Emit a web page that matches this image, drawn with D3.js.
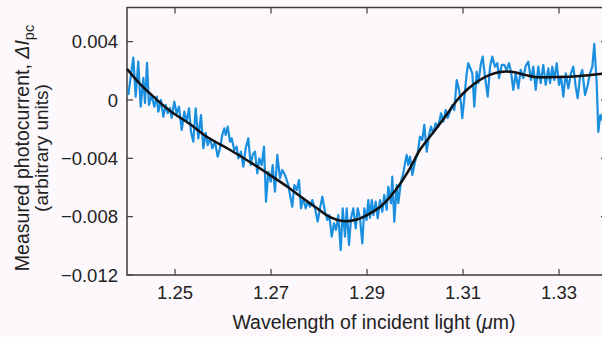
<!DOCTYPE html>
<html>
<head>
<meta charset="utf-8">
<script src="https://cdn.jsdelivr.net/npm/d3@7"></script>
<style>
  html, body { margin: 0; padding: 0; background: #fcf8fc; overflow: hidden; }
  svg { display: block; }
  text { font-family: "Liberation Sans", Arial, Helvetica, sans-serif; fill: #222; }
</style>
</head>
<body>
<div id="chart"></div>
<script>
// Measured photocurrent (noisy trace)
const measuredWl = [
  1.24027, 1.24131, 1.24181, 1.24235, 1.24285, 1.24340, 1.24375, 1.24417, 1.24458, 1.24515,
  1.24569, 1.24619, 1.24652, 1.24708, 1.24756, 1.24806, 1.24848, 1.24896, 1.24931, 1.24985,
  1.25035, 1.25083, 1.25140, 1.25194, 1.25244, 1.25292, 1.25333, 1.25381, 1.25431, 1.25485,
  1.25542, 1.25590, 1.25640, 1.25681, 1.25729, 1.25777, 1.25833, 1.25890, 1.25938, 1.25985,
  1.26027, 1.26056, 1.26098, 1.26146, 1.26181, 1.26235, 1.26285, 1.26319, 1.26375, 1.26423,
  1.26473, 1.26527, 1.26577, 1.26619, 1.26667, 1.26715, 1.26756, 1.26806, 1.26854, 1.26896,
  1.26944, 1.26994, 1.27035, 1.27083, 1.27131, 1.27188, 1.27235, 1.27292, 1.27360, 1.27396,
  1.27444, 1.27485, 1.27535, 1.27583, 1.27625, 1.27673, 1.27723, 1.27765, 1.27813, 1.27860,
  1.27917, 1.27973, 1.28021, 1.28069, 1.28125, 1.28173, 1.28215, 1.28265, 1.28313, 1.28354,
  1.28402, 1.28452, 1.28494, 1.28542, 1.28577, 1.28625, 1.28667, 1.28715, 1.28765, 1.28806,
  1.28854, 1.28902, 1.28944, 1.28990, 1.29027, 1.29063, 1.29100, 1.29135, 1.29181, 1.29223,
  1.29271, 1.29319, 1.29360, 1.29410, 1.29444, 1.29500, 1.29527, 1.29569, 1.29619, 1.29652,
  1.29708, 1.29756, 1.29792, 1.29827, 1.29860, 1.29896, 1.29944, 1.30000, 1.30056, 1.30104,
  1.30152, 1.30194, 1.30244, 1.30292, 1.30333, 1.30381, 1.30431, 1.30485, 1.30542, 1.30590,
  1.30640, 1.30681, 1.30729, 1.30777, 1.30819, 1.30869, 1.30917, 1.30958, 1.30985, 1.31027,
  1.31077, 1.31110, 1.31167, 1.31194, 1.31235, 1.31285, 1.31319, 1.31375, 1.31410, 1.31458,
  1.31515, 1.31563, 1.31610, 1.31667, 1.31715, 1.31750, 1.31806, 1.31860, 1.31910, 1.31958,
  1.32000, 1.32048, 1.32098, 1.32152, 1.32202, 1.32256, 1.32306, 1.32360, 1.32417, 1.32465,
  1.32515, 1.32569, 1.32619, 1.32673, 1.32723, 1.32777, 1.32813, 1.32860, 1.32902, 1.32952,
  1.33000, 1.33042, 1.33090, 1.33140, 1.33194, 1.33250, 1.33298, 1.33348, 1.33390, 1.33438,
  1.33485, 1.33542, 1.33598, 1.33646, 1.33694, 1.33735, 1.33785, 1.33819, 1.33860, 1.33896,
  1.33938
];
const measuredVal = [
  0.00034, 0.00290, 0.00023, 0.00263, -0.00046, 0.00151, -0.00021, 0.00254, -0.00034, 0.00034,
  -0.00046, 0.00023, -0.00080, 0.00000, -0.00115, -0.00034, -0.00091, -0.00055, -0.00123, -0.00012,
  -0.00091, -0.00046, -0.00206, -0.00080, -0.00149, -0.00057, -0.00217, -0.00286, -0.00057, -0.00263,
  -0.00103, -0.00331, -0.00226, -0.00309, -0.00263, -0.00331, -0.00286, -0.00389, -0.00331, -0.00240,
  -0.00194, -0.00240, -0.00183, -0.00286, -0.00263, -0.00343, -0.00320, -0.00400, -0.00355, -0.00457,
  -0.00331, -0.00263, -0.00446, -0.00377, -0.00355, -0.00503, -0.00400, -0.00446, -0.00320, -0.00697,
  -0.00492, -0.00560, -0.00446, -0.00629, -0.00377, -0.00537, -0.00480, -0.00514, -0.00583, -0.00651,
  -0.00732, -0.00583, -0.00617, -0.00549, -0.00743, -0.00674, -0.00743, -0.00697, -0.00732, -0.00686,
  -0.00743, -0.00834, -0.00743, -0.00663, -0.00766, -0.00823, -0.00789, -0.00937, -0.00845, -0.00891,
  -0.00789, -0.01029, -0.00743, -0.00937, -0.00743, -0.00994, -0.00811, -0.00743, -0.00880, -0.00743,
  -0.00811, -0.00983, -0.00743, -0.00823, -0.00686, -0.00809, -0.00686, -0.00789, -0.00697, -0.00811,
  -0.00686, -0.00766, -0.00651, -0.00754, -0.00595, -0.00708, -0.00526, -0.00834, -0.00583, -0.00708,
  -0.00560, -0.00503, -0.00434, -0.00377, -0.00446, -0.00389, -0.00514, -0.00423, -0.00365, -0.00252,
  -0.00274, -0.00171, -0.00355, -0.00240, -0.00183, -0.00228, -0.00160, -0.00183, -0.00091, -0.00149,
  -0.00069, -0.00123, -0.00080, -0.00034, -0.00069, 0.00137, 0.00069, -0.00023, -0.00125, 0.00012,
  0.00183, 0.00252, 0.00206, 0.00183, -0.00046, 0.00194, 0.00115, 0.00252, 0.00297, 0.00160,
  0.00023, 0.00228, 0.00297, 0.00228, 0.00252, 0.00149, 0.00240, 0.00240, 0.00206, 0.00252,
  0.00194, 0.00069, 0.00183, 0.00080, 0.00206, 0.00149, 0.00233, 0.00263, 0.00137, 0.00228,
  0.00069, 0.00228, 0.00115, 0.00240, 0.00103, 0.00217, 0.00115, 0.00228, 0.00137, 0.00252,
  0.00103, 0.00160, 0.00023, 0.00183, 0.00080, 0.00183, 0.00228, 0.00091, 0.00012, 0.00160,
  0.00206, 0.00034, 0.00103, 0.00183, 0.00228, 0.00384, 0.00115, -0.00219, -0.00103, -0.00137,
  -0.00034
];

// Smooth fitted curve (black)
const fitWl = [
  1.2400, 1.2427, 1.2458, 1.2490, 1.2531, 1.2567, 1.2615, 1.2656, 1.2698, 1.2735,
  1.2760, 1.2792, 1.2823, 1.2850, 1.2875, 1.2900, 1.2927, 1.2948, 1.2969, 1.2990,
  1.3010, 1.3042, 1.3067, 1.3088, 1.3110, 1.3135, 1.3156, 1.3177, 1.3204, 1.3229,
  1.3250, 1.3302, 1.3344, 1.3385, 1.3400
];
const fitVal = [
  0.00213, 0.00110, 0.00014, -0.00075, -0.00165, -0.00254, -0.00343, -0.00425, -0.00515, -0.00597,
  -0.00659, -0.00734, -0.00803, -0.00830, -0.00823, -0.00789, -0.00734, -0.00665, -0.00576, -0.00466,
  -0.00343, -0.00206, -0.00096, 0.00000, 0.00075, 0.00137, 0.00172, 0.00192, 0.00192, 0.00172,
  0.00158, 0.00158, 0.00165, 0.00178, 0.00182
];

const xTicks = [1.25, 1.27, 1.29, 1.31, 1.33];
const yTicks = [0.004, 0, -0.004, -0.008, -0.012];
const yTickLabels = ['0.004', '0', '\u22120.004', '\u22120.008', '\u22120.012'];

const width = 602, height = 337;
const margin = { top: 7.5, left: 127, bottom: 275, right: 607 };

const svg = d3.select('#chart').append('svg')
  .attr('width', width)
  .attr('height', height);

svg.append('rect').attr('width', width).attr('height', height).attr('fill', '#fcf8fc');

const x = d3.scaleLinear().domain([1.24, 1.34]).range([margin.left, margin.right]);
const y = d3.scaleLinear().domain([-0.012, 0.00634]).range([margin.bottom, margin.top]);

const frame = '#3d3d3d';
const tickLen = 6;

// frame
svg.append('rect')
  .attr('x', x(1.24))
  .attr('y', y(0.00634))
  .attr('width', x(1.34) - x(1.24))
  .attr('height', y(-0.012) - y(0.00634))
  .attr('fill', 'none')
  .attr('stroke', frame)
  .attr('stroke-width', 1.5);

// inward ticks on all four sides
const g = svg.append('g').attr('stroke', frame).attr('stroke-width', 1.2);
xTicks.forEach(t => {
  g.append('line').attr('x1', x(t)).attr('x2', x(t))
    .attr('y1', y(-0.012)).attr('y2', y(-0.012) - tickLen);
  g.append('line').attr('x1', x(t)).attr('x2', x(t))
    .attr('y1', y(0.00634)).attr('y2', y(0.00634) + tickLen);
});
yTicks.forEach(t => {
  g.append('line').attr('x1', x(1.24)).attr('x2', x(1.24) + tickLen)
    .attr('y1', y(t)).attr('y2', y(t));
  g.append('line').attr('x1', x(1.34)).attr('x2', x(1.34) - tickLen)
    .attr('y1', y(t)).attr('y2', y(t));
});

// tick labels
svg.selectAll('text.xt')
  .data(xTicks)
  .join('text')
  .attr('class', 'xt')
  .attr('x', d => x(d))
  .attr('y', 299)
  .attr('text-anchor', 'middle')
  .attr('font-size', 18.5)
  .text(d => d3.format('.2f')(d));

svg.selectAll('text.yt')
  .data(yTicks)
  .join('text')
  .attr('class', 'yt')
  .attr('x', 118)
  .attr('y', d => y(d))
  .attr('dy', '0.36em')
  .attr('text-anchor', 'end')
  .attr('font-size', 18.5)
  .text((d, i) => yTickLabels[i]);

// measured trace
const measured = measuredWl.map((w, i) => ({ w, v: measuredVal[i] }));
const fit = fitWl.map((w, i) => ({ w, v: fitVal[i] }));

svg.append('path')
  .datum(measured)
  .attr('fill', 'none')
  .attr('stroke', '#1a8fe0')
  .attr('stroke-width', 2.2)
  .attr('stroke-linejoin', 'round')
  .attr('d', d3.line().x(d => x(d.w)).y(d => y(d.v)));

svg.append('path')
  .datum(fit)
  .attr('fill', 'none')
  .attr('stroke', '#111')
  .attr('stroke-width', 2.5)
  .attr('d', d3.line().x(d => x(d.w)).y(d => y(d.v)).curve(d3.curveCatmullRom.alpha(0.5)));

// axis titles
const xl = svg.append('text')
  .attr('x', 374)
  .attr('y', 329)
  .attr('text-anchor', 'middle')
  .attr('font-size', 19.5);
xl.append('tspan').text('Wavelength of incident light (');
xl.append('tspan').attr('font-style', 'italic').text('\u03bc');
xl.append('tspan').text('m)');

const yl = svg.append('g').attr('transform', 'translate(29,148) rotate(-90)');
const l1 = yl.append('text')
  .attr('x', 0).attr('y', 0)
  .attr('text-anchor', 'middle')
  .attr('font-size', 19.5);
l1.append('tspan').text('Measured photocurrent, ');
l1.append('tspan').attr('font-style', 'italic').text('\u0394I');
l1.append('tspan').attr('font-size', 14.5).attr('dy', 5).text('pc');

yl.append('text')
  .attr('x', 0).attr('y', 19)
  .attr('text-anchor', 'middle')
  .attr('font-size', 19)
  .text('(arbitrary units)');
</script>
</body>
</html>
